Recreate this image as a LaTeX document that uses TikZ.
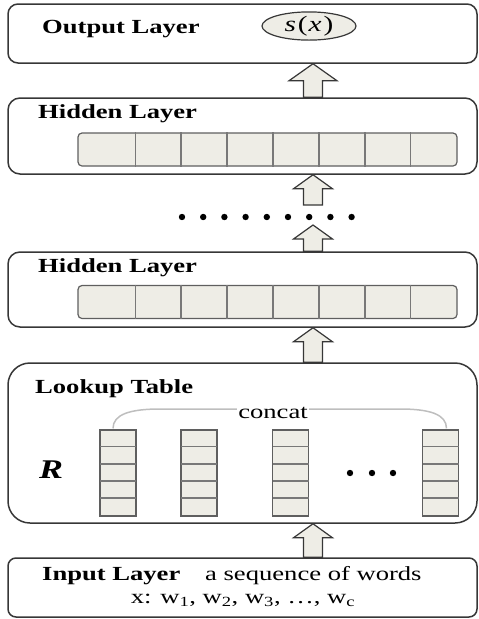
\documentclass[tikz,border=0pt]{standalone}
\usepackage{fontspec}
\setmainfont{Liberation Serif}[FakeStretch=1.33]
\usetikzlibrary{calc,shapes.geometric,backgrounds}
\definecolor{cellfill}{RGB}{238,237,230}
\definecolor{frame}{RGB}{55,55,55}
\definecolor{divgray}{RGB}{120,120,120}
\definecolor{arcgray}{RGB}{190,190,190}
\newcommand{\lblfont}{\fontsize{20}{22}\selectfont}
\tikzset{
	layer/.style={rectangle,draw=frame,line width=1.5pt,rounded corners=12pt,minimum width=469pt,inner sep=0pt},
	title/.style={anchor=base west,inner sep=0pt,font=\lblfont\bfseries},
	plain/.style={inner sep=0pt,font=\lblfont},
	vecrow/.style={rectangle,draw=frame!80,fill=cellfill,line width=1.2pt,rounded corners=4pt,minimum width=379pt,minimum height=33pt,inner sep=0pt},
	veccol/.style={rectangle,draw=frame!80,fill=cellfill,line width=1.2pt,minimum width=36pt,minimum height=86pt,inner sep=0pt},
	divider/.style={draw=divgray,line width=1.8pt},
	blockarrow/.style={draw=frame,fill=cellfill,line width=1.2pt,line join=miter},
	dot/.style={circle,fill=black,inner sep=0pt,minimum size=6.4pt}
}
\newcommand{\blockup}[4]{\draw[blockarrow] ($(#1)+(-9.5,0)$) -- ($(#2)+(-9.5,#4)$) -- ($(#2)+(-#3,#4)$) -- (#2) -- ($(#2)+(#3,#4)$) -- ($(#2)+(9.5,#4)$) -- ($(#1)+(9.5,0)$) -- cycle;}
\begin{document}
\begin{tikzpicture}[x=1pt,y=-1pt]
	\useasboundingbox (0,0) rectangle (479,619);
	\coordinate (mid) at (313,0);
	\coordinate (dotstop) at (313,205);
	\coordinate (dotsbot) at (313,225);
	
	\node[layer,minimum height=59pt,rounded corners=10pt] (output) at (242.5,33.5) {};
	\node[layer,minimum height=76pt] (hidden1) at (242.5,136) {};
	\node[layer,minimum height=75pt] (hidden2) at (242.5,289.5) {};
	\node[layer,minimum height=160pt,rounded corners=22pt] (lookup) at (242.5,443) {};
	\node[layer,minimum height=59pt,rounded corners=8pt] (input) at (242.5,587.5) {};
	
	\node[title] (outlbl) at (42,33) {Output Layer};
	\node[ellipse,draw=frame,fill=cellfill,line width=1.2pt,minimum width=94pt,minimum height=26pt,inner sep=0pt] (score) at (309,26) {\fontsize{22}{24}\selectfont\textit{s}\kern2pt(\kern1pt\textit{x}\kern2pt)};
	
	\node[title] (hid1lbl) at (38,118) {Hidden Layer};
	\node[title] (hid2lbl) at (38,272) {Hidden Layer};
	\node[vecrow] (row1) at (267.5,149.5) {};
	\node[vecrow] (row2) at (267.5,302) {};
	\foreach \r in {row1,row2}
		\foreach \i in {0,...,6}
			\draw[divider] ($(\r.north west)+(58+45.86*\i,0)$) -- ($(\r.south west)+(58+45.86*\i,0)$);
	\foreach \i in {0,...,8}
		\node[dot] (dot\i) at (182+21.2*\i,217) {};
	
	\node[title] (lutlbl) at (35,393) {Lookup Table};
	\node[font=\fontsize{27}{27}\selectfont\bfseries\itshape,inner sep=0pt] (rmat) at (51,470) {R};
	\foreach \x [count=\i] in {118,199,290.5,440.5} {
		\node[veccol] (col\i) at (\x,473) {};
		\foreach \k in {1,...,4}
			\draw[divider,line width=1.5pt] ($(col\i.north west)+(0.6,17.2*\k)$) -- ($(col\i.north east)+(-0.6,17.2*\k)$);
	}
	\foreach \x [count=\i] in {350,372,393}
		\node[dot] (more\i) at (\x,473) {};
	\draw[arcgray,line width=1.5pt] ($(col1.north)+(-5,-1)$) .. controls +(0,-14) and +(-30,0) .. (160,409) -- (400,409) .. controls +(30,0) and +(0,-14) .. ($(col4.north)+(6,-1)$);
	\node[plain,anchor=base,fill=white,inner sep=1pt] (concat) at (273,418) {concat};
	
	\node[title] (inlbl) at (42,580) {Input Layer};
	\node[plain,anchor=base west] (seq) at (205,580) {a sequence of words};
	\node[plain,anchor=base] (words) at (243,603) {x: w\textsubscript{1}, w\textsubscript{2}, w\textsubscript{3}, …, w\textsubscript{c}};
	
	\begin{pgfonlayer}{background}
		\blockup{hidden1.north -| mid}{output.south -| mid}{24}{17}
		\blockup{dotstop}{hidden1.south -| mid}{19.5}{14}
		\blockup{hidden2.north -| mid}{dotsbot}{19.5}{14}
		\blockup{lookup.north -| mid}{hidden2.south -| mid}{19.5}{14}
		\blockup{input.north -| mid}{lookup.south -| mid}{19.5}{14}
	\end{pgfonlayer}
\end{tikzpicture}
\end{document}
